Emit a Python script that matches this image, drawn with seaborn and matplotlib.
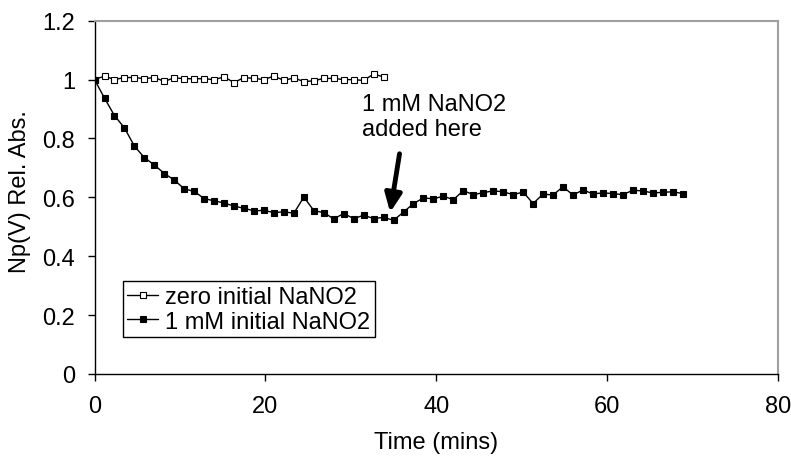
import numpy as np
import pandas as pd
import matplotlib
matplotlib.use("Agg")
import matplotlib.pyplot as plt
import seaborn as sns

time_min = [0, 1.17, 2.33, 3.5, 4.67, 5.83, 7, 8.17, 9.33, 10.5, 11.67, 12.83, 14, 15.17,
            16.33, 17.5, 18.67, 19.83, 21, 22.17, 23.33, 24.5, 25.67, 26.83, 28, 29.17,
            30.33, 31.5, 32.67, 33.83, 35, 36.17, 37.33, 38.5, 39.67, 40.83, 42, 43.17,
            44.33, 45.5, 46.67, 47.83, 49, 50.17, 51.33, 52.5, 53.67, 54.83, 56, 57.17,
            58.33, 59.5, 60.67, 61.83, 63, 64.17, 65.33, 66.5, 67.67, 68.83]

zero_nano2 = [1.0, 1.012, 1.0, 1.007, 1.007, 1.003, 1.007, 0.994, 1.006, 1.003,
              1.003, 1.003, 1.0, 1.009, 0.99, 1.007, 1.004, 1.0, 1.012, 0.997,
              1.006, 0.993, 0.996, 1.004, 1.004, 1.0, 1.0, 0.997, 1.019, 1.009]

one_mm_nano2 = [1.0, 0.937, 0.878, 0.836, 0.774, 0.735, 0.710, 0.681, 0.659, 0.629,
                0.620, 0.596, 0.588, 0.581, 0.570, 0.563, 0.554, 0.556, 0.548, 0.551,
                0.546, 0.601, 0.555, 0.548, 0.527, 0.545, 0.528, 0.539, 0.528, 0.532,
                0.522, 0.550, 0.579, 0.598, 0.595, 0.604, 0.592, 0.623, 0.609, 0.616,
                0.622, 0.619, 0.609, 0.618, 0.579, 0.611, 0.608, 0.636, 0.608, 0.625,
                0.612, 0.615, 0.613, 0.609, 0.624, 0.622, 0.615, 0.617, 0.619, 0.613]

series_labels = ["zero initial NaNO2", "1 mM initial NaNO2"]
x_ticks = [0, 20, 40, 60, 80]
y_ticks = [0, 0.2, 0.4, 0.6, 0.8, 1.0, 1.2]
y_tick_labels = ["0", "0.2", "0.4", "0.6", "0.8", "1", "1.2"]

df_zero = pd.DataFrame({"t": time_min[:len(zero_nano2)], "v": zero_nano2})
df_one = pd.DataFrame({"t": time_min, "v": one_mm_nano2})

sns.set_style("white")
plt.rcParams["font.family"] = ["Liberation Sans", "DejaVu Sans"]
plt.rcParams["text.color"] = "black"
plt.rcParams["axes.labelcolor"] = "black"
plt.rcParams["xtick.color"] = "black"
plt.rcParams["ytick.color"] = "black"
FS = 17

fig = plt.figure(figsize=(7.91, 4.60), dpi=100)
ax = fig.add_axes([0.1195, 0.1848, 0.9836 - 0.1195, 0.9528 - 0.1848])

sns.lineplot(data=df_zero, x="t", y="v", ax=ax, color="black", lw=1.0,
             marker="s", markersize=5, markerfacecolor="white",
             markeredgecolor="black", markeredgewidth=0.8,
             label=series_labels[0], estimator=None, sort=False)
sns.lineplot(data=df_one, x="t", y="v", ax=ax, color="black", lw=1.0,
             marker="s", markersize=5, markerfacecolor="black",
             markeredgecolor="black", markeredgewidth=0.8,
             label=series_labels[1], estimator=None, sort=False)

ax.set_xlim(0, 80)
ax.set_ylim(0, 1.2)
ax.set_xticks(x_ticks)
ax.set_xticklabels([str(t) for t in x_ticks], fontsize=FS)
ax.set_yticks(y_ticks)
ax.set_yticklabels(y_tick_labels, fontsize=FS)
ax.tick_params(axis="y", direction="out", length=5, width=1, color="black", pad=9, left=True)
ax.tick_params(axis="x", direction="out", length=5, width=1, color="black", pad=10, bottom=True)

ax.set_xlabel("Time (mins)", fontsize=FS, labelpad=10)
ax.set_ylabel("Np(V) Rel. Abs.", fontsize=FS)
ax.yaxis.set_label_coords(-0.093, 0.52)

for s in ["left", "bottom"]:
    ax.spines[s].set_color("black")
    ax.spines[s].set_linewidth(1.0)
for s in ["top", "right"]:
    ax.spines[s].set_color("#a0a0a0")
    ax.spines[s].set_linewidth(1.5)
    ax.spines[s].set_visible(True)
ax.grid(False)

leg = ax.legend(loc="upper left", bbox_to_anchor=(0.041, 0.262), borderaxespad=0,
                fontsize=FS, frameon=True, fancybox=False, shadow=False,
                handlelength=1.3, handletextpad=0.3, borderpad=0.2,
                labelspacing=0.1, framealpha=1)
leg.get_frame().set_edgecolor("black")
leg.get_frame().set_linewidth(1.0)

ax.text(31.3, 0.875, "1 mM NaNO2\nadded here", fontsize=FS, ha="left", va="center",
        linespacing=1.2)
ax.annotate("", xy=(34.6, 0.549), xytext=(35.7, 0.748),
            arrowprops=dict(arrowstyle="-|>,head_length=0.55,head_width=0.25",
                            lw=3.5, color="black", mutation_scale=20,
                            shrinkA=0, shrinkB=0))

fig.savefig("out.png", dpi=100)
